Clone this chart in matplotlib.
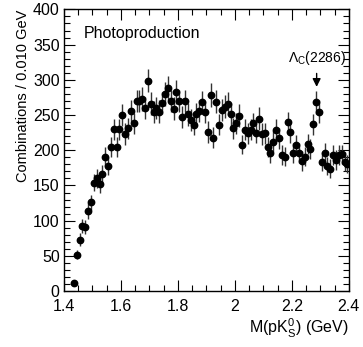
import numpy as np
import matplotlib
matplotlib.use('Agg')
import matplotlib.pyplot as plt
from matplotlib.ticker import MultipleLocator

plt.rcParams['font.family'] = ['Liberation Sans', 'DejaVu Sans']
plt.rcParams['mathtext.fontset'] = 'custom'
plt.rcParams['mathtext.rm'] = 'Liberation Sans'
plt.rcParams['mathtext.it'] = 'Liberation Sans'

# ---- data: M(pK0s) spectrum, bins of 0.010 GeV starting at 1.43 GeV ----
bin_lo = 1.43
bin_width = 0.01
counts = [11, 52, 73, 93, 91, 114, 126, 154, 160, 152,
          166, 191, 178, 205, 230, 205, 230, 250, 223, 231,
          256, 238, 270, 270, 273, 260, 299, 266, 254, 260,
          255, 267, 280, 288, 270, 259, 283, 270, 247, 270,
          251, 243, 236, 251, 256, 268, 254, 226, 278, 218,
          269, 236, 257, 262, 266, 251, 231, 238, 249, 208,
          229, 224, 229, 238, 225, 245, 223, 224, 205, 196,
          212, 229, 217, 193, 191, 240, 226, 196, 207, 196,
          185, 191, 209, 202, 237, 268, 255, 184, 196, 178,
          174, 193, 186, 193, 194, 184, 180]
errors = [3, 7, 9, 10, 10, 11, 11, 12, 13, 12,
          13, 14, 13, 14, 15, 14, 15, 16, 15, 15,
          16, 15, 16, 16, 17, 16, 17, 16, 16, 16,
          16, 16, 17, 17, 16, 16, 17, 16, 16, 16,
          16, 16, 15, 16, 16, 16, 16, 15, 17, 15,
          16, 15, 16, 16, 16, 16, 15, 15, 16, 14,
          15, 15, 15, 15, 15, 16, 15, 15, 14, 14,
          15, 15, 15, 14, 14, 15, 15, 14, 14, 14,
          14, 14, 14, 14, 15, 16, 16, 14, 14, 13,
          13, 14, 14, 14, 14, 14, 13]
mass = bin_lo + bin_width * (np.arange(len(counts)) + 0.5)

peak_label = r'$\Lambda_{\rm C}$(2286)'
peak_mass = 2.287

fig = plt.figure(figsize=(3.63, 3.47), dpi=100)
ax = fig.add_axes([0.176, 0.161, 0.785, 0.812])

ax.errorbar(mass, counts, yerr=errors, fmt='o', color='black',
            markersize=4.6, elinewidth=1.0, capsize=0, ecolor='#333333')

ax.set_xlim(1.4, 2.4)
ax.set_ylim(0, 400)
ax.xaxis.set_major_locator(MultipleLocator(0.2))
ax.xaxis.set_minor_locator(MultipleLocator(0.05))
ax.yaxis.set_major_locator(MultipleLocator(50))
ax.yaxis.set_minor_locator(MultipleLocator(10))
ax.set_xticks([1.4, 1.6, 1.8, 2.0, 2.2, 2.4])
ax.set_xticklabels(['1.4', '1.6', '1.8', '2', '2.2', '2.4'])
ax.tick_params(which='both', direction='in', top=True, right=True,
               labelsize=11.5, width=0.8)
ax.tick_params(which='major', length=8)
ax.tick_params(axis='x', which='major', pad=6)
ax.tick_params(axis='y', which='major', pad=3)
ax.tick_params(which='minor', length=4)
for sp in ax.spines.values():
    sp.set_linewidth(1.0)

ax.set_ylabel('Combinations / 0.010 GeV', fontsize=10.5, loc='top', labelpad=2)
ax.set_xlabel(r'M(pK$^0_{\rm S}$) (GeV)', fontsize=11.5, loc='right', labelpad=2)

ax.text(0.07, 0.915, 'Photoproduction', transform=ax.transAxes,
        fontsize=11.5, ha='left', va='center')

ax.annotate('', xy=(peak_mass, 286), xytext=(peak_mass, 313),
            arrowprops=dict(arrowstyle='-|>', color='black', lw=1.0,
                            mutation_scale=12))
ax.text(peak_mass, 318, peak_label, fontsize=10, ha='center', va='bottom')

fig.savefig('out.png', dpi=100)
